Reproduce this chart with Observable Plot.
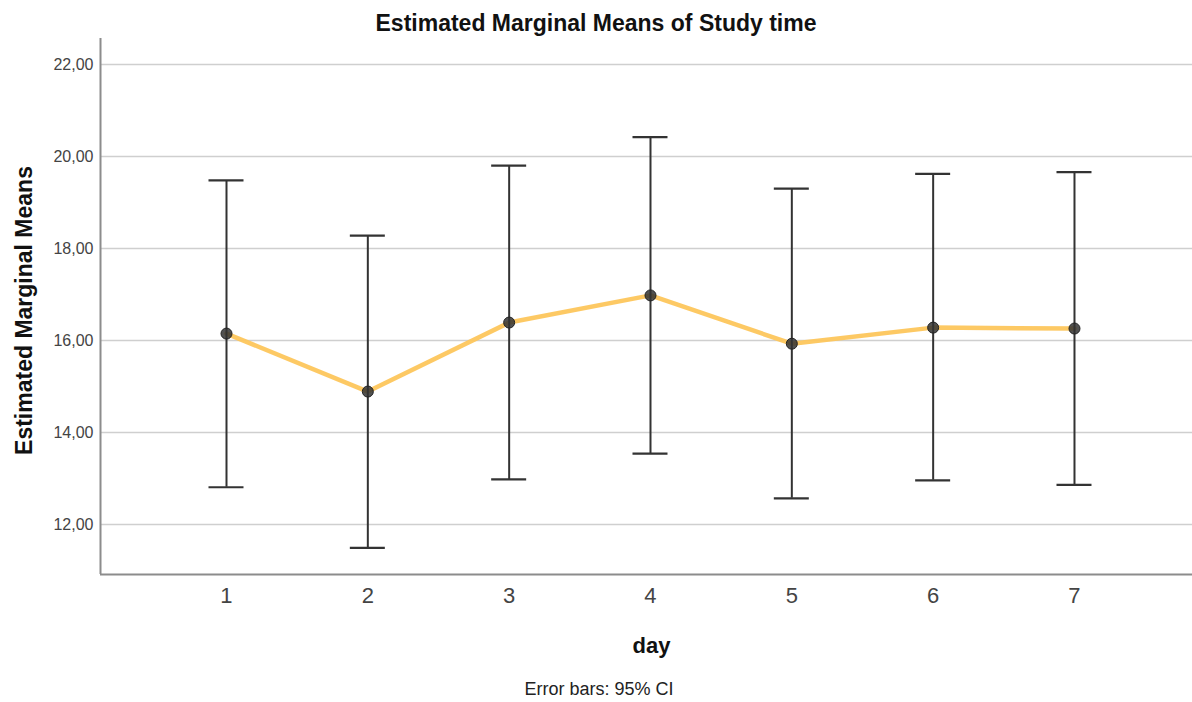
<!DOCTYPE html>
<html>
<head>
<meta charset="utf-8">
<script src="https://cdn.jsdelivr.net/npm/d3@7"></script>
<script src="https://cdn.jsdelivr.net/npm/@observablehq/plot@0.6"></script>
<style>
  html, body { margin: 0; padding: 0; background: #fff; }
  body { width: 1192px; height: 702px; overflow: hidden; font-family: "Liberation Sans", Arial, sans-serif; }
  #title { height: 29px; padding-top: 9px; line-height: 29px; font-size: 23px; font-weight: bold; text-align: center; color: #111; }
  #chart svg { display: block; }
  #caption { height: 30px; line-height: 34px; font-size: 18px; text-align: center; color: #222; padding-left: 6px; }
</style>
</head>
<body>
<div id="title">Estimated Marginal Means of Study time</div>
<div id="chart"></div>
<div id="caption">Error bars: 95% CI</div>
<script>
// Data
const days = [1, 2, 3, 4, 5, 6, 7];
const means = [16.15, 14.89, 16.39, 16.98, 15.93, 16.28, 16.26];
const lower = [12.81, 11.49, 12.98, 13.54, 12.57, 12.96, 12.86];
const upper = [19.48, 18.28, 19.80, 20.42, 19.30, 19.62, 19.66];
const yTicks = [12, 14, 16, 18, 20, 22];

const data = days.map((d, i) => ({day: d, mean: means[i], lo: lower[i], hi: upper[i]}));

const yDomain = [10.913, 22.565];
const xDomain = [0.1085, 7.835];

const chart = Plot.plot({
  width: 1192,
  height: 634,
  marginLeft: 100,
  marginRight: 0,
  marginTop: 0,
  marginBottom: 98,
  style: {fontFamily: "Liberation Sans, Arial, sans-serif", fontSize: "16px", background: "#fff", color: "#333"},
  x: {type: "linear", domain: xDomain, axis: null},
  y: {domain: yDomain, axis: null},
  marks: [
    Plot.gridY(yTicks, {stroke: "#cfcfcf", strokeOpacity: 1, strokeWidth: 1.7}),
    Plot.ruleY([yDomain[0]], {stroke: "#8c8c8c", strokeWidth: 2}),
    Plot.ruleX([xDomain[0]], {stroke: "#8c8c8c", strokeWidth: 2}),
    Plot.axisY(yTicks, {
      tickSize: 0, tickPadding: 7, fontSize: 16, fill: "#444", label: null,
      tickFormat: d => d.toFixed(2).replace(".", ",")
    }),
    Plot.axisX(days, {tickSize: 0, tickPadding: 13, fontSize: 22, fill: "#444", label: null, tickFormat: d => String(d)}),
    Plot.line(data, {x: "day", y: "mean", stroke: "#fdc65c", strokeWidth: 4.5, strokeOpacity: 0.95}),
    Plot.ruleX(data, {x: "day", y1: "lo", y2: "hi", stroke: "#333", strokeWidth: 2}),
    Plot.ruleY(data, {x1: "day", x2: "day", y: "hi", insetLeft: -17.5, insetRight: -17.5, stroke: "#333", strokeWidth: 2.2}),
    Plot.ruleY(data, {x1: "day", x2: "day", y: "lo", insetLeft: -17.5, insetRight: -17.5, stroke: "#333", strokeWidth: 2.2}),
    Plot.dot(data, {x: "day", y: "mean", r: 5.5, fill: "#333", fillOpacity: 0.85, stroke: "#222", strokeWidth: 1}),
    Plot.text(["day"], {frameAnchor: "bottom", textAnchor: "middle", dy: 78, dx: 5, lineAnchor: "bottom", fontSize: 22, fontWeight: "bold", fill: "#111"}),
    Plot.text(["Estimated Marginal Means"], {frameAnchor: "left", textAnchor: "middle", dx: -69, dy: 4, rotate: -90, lineAnchor: "bottom", fontSize: 23, fontWeight: "bold", fill: "#111"})
  ]
});
document.getElementById("chart").appendChild(chart);
</script>
</body>
</html>
